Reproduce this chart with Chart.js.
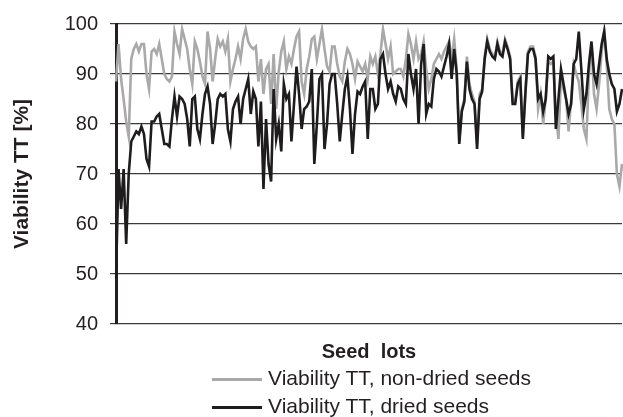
<!DOCTYPE html>
<html>
<head>
<meta charset="utf-8">
<title>Viability TT</title>
<script src="https://cdn.jsdelivr.net/npm/chart.js@4"></script>
<style>
  body { margin: 0; background: #fff; }
  #wrap { position: relative; width: 623px; height: 417px; }
  #legend {
    position: absolute; left: 212px; top: 364px;
    font: 21px "Liberation Sans", Arial, sans-serif; color: #231f20;
  }
  #legend div { height: 28px; line-height: 28px; white-space: nowrap; }
  #legend span.swatch {
    display: inline-block; width: 50px; height: 3px;
    vertical-align: middle; margin-right: 6px;
  }
</style>
</head>
<body>
<div id="wrap">
  <canvas id="chart" width="623" height="417"></canvas>
  <div id="legend"></div>
</div>
<script>
// viability (%) per seed lot
const nonDried = [
  88.5, 96, 89, 85, 80.5, 77.5, 93, 95, 96, 94.5,
  96, 96, 90, 87, 94.5, 95, 94, 96, 93, 90,
  89, 88.5, 89.5, 98.5, 96, 94, 99, 97, 95, 91,
  88, 96.5, 95, 92.5, 89.5, 88, 98.5, 95, 88.5, 93,
  97, 95.5, 96.5, 94.5, 97, 88.5, 91, 93, 95.5, 93,
  97, 99, 96.5, 95.5, 95, 95.5, 88.5, 93, 86, 91,
  92, 84, 94, 83, 90.5, 94.5, 96.5, 91, 93.5, 92,
  95, 97.5, 98.5, 88.5, 86, 91, 93.5, 97, 97.5, 93,
  96, 99, 95, 91.5, 90.5, 95.5, 95.5, 92, 89.5, 88.5,
  92.5, 95, 94, 92, 89, 92.5, 91.5, 90.5, 92, 89,
  93.5, 92, 93.5, 90, 94, 99, 96, 93, 95.5, 90,
  90.5, 91, 91, 89.5, 93, 98, 96, 93, 96.5, 93,
  94, 96.5, 91, 87, 89, 92, 93, 94, 93, 94.5,
  95.5, 96.5, 93, 97, 91, 76.5, 83, 85, 93.5, 88,
  86, 84.5, 76, 86, 87, 93.5, 97, 95, 94, 93.5,
  96.5, 94.5, 94, 97, 95.5, 93.5, 84.5, 84.5, 88.5, 89.5,
  77.5, 86.5, 94.5, 95.5, 95.5, 93.5, 83, 86, 80, 85,
  92.5, 92, 92.5, 82, 77, 89.5, 87, 85, 78.5, 85,
  92, 90, 88.5, 84, 79, 77, 90, 95.5, 86, 83,
  88, 94.5, 98.5, 92, 83, 81, 80, 70, 67.5, 72
];
const dried = [
  49, 71, 63, 71, 56, 70, 76.5, 77.5, 78.5, 78,
  79.5, 78, 73, 71.5, 80.5, 80.5, 81.5, 82, 79, 76,
  76, 75.5, 81, 85.5, 81.5, 85.5, 85, 84, 81, 75.5,
  85, 85.5, 79, 77, 82, 86, 87.5, 84, 76, 80,
  85, 86, 85.5, 86, 79, 76.5, 83, 84.5, 85.5, 80,
  85, 87, 89, 82, 86.5, 85, 75.5, 84.5, 67, 81,
  72, 68.5, 87, 77, 80, 74.5, 88, 85, 86, 76.5,
  84, 91.5, 86, 79, 83, 83.5, 84.5, 91, 72, 80,
  89, 90, 75, 80, 88, 90, 90, 84, 76.5, 82,
  87, 89.5, 83, 74, 82, 86.5, 86, 87.5, 88.5, 77,
  87, 87, 83, 84, 93, 94, 90, 87, 88.5, 86,
  84.5, 87.5, 87, 85, 84, 94, 90, 87, 91, 80,
  92, 96, 82, 84, 83.5, 89, 91, 90.5, 89.5, 91.5,
  93.5, 96, 89, 95, 90, 76, 82.5, 84.5, 92.5, 87,
  85, 84, 75, 85, 86.5, 93, 96.5, 94.5, 93.5, 93,
  96, 94, 93.5, 96.5, 95, 93, 84, 84, 88, 89,
  77, 86, 94, 95, 95, 93, 85, 86, 82.5, 85,
  93.5, 93, 93.5, 79, 85, 91, 88, 85, 82, 84,
  92, 93, 98.5, 91, 83, 86, 92, 96.5, 90, 88,
  92, 96, 98.5, 93, 90, 88, 87, 82.5, 84, 87
];
const seedLots = dried.map((_, i) => i + 1);
const yTicks = [40, 50, 60, 70, 80, 90, 100];

const series = [
  { label: 'Viability TT, non-dried seeds', data: nonDried, color: '#a9a9a9', order: 2 },
  { label: 'Viability TT, dried seeds', data: dried, color: '#1e1c1d', order: 1 }
];

const FONT = '"Liberation Sans", Arial, sans-serif';
const INK = '#231f20';

new Chart(document.getElementById('chart'), {
  type: 'line',
  data: {
    labels: seedLots,
    datasets: series.map(s => ({
      label: s.label,
      data: s.data,
      borderColor: s.color,
      backgroundColor: s.color,
      borderWidth: 2.6,
      pointRadius: 0,
      tension: 0,
      order: s.order
    }))
  },
  options: {
    responsive: false,
    animation: false,
    layout: { padding: { top: 24, right: 1, left: 0, bottom: 0 } },
    plugins: { legend: { display: false }, tooltip: { enabled: false } },
    scales: {
      x: {
        grid: { display: false },
        border: { display: false },
        ticks: { display: false },
        title: {
          display: true,
          text: 'Seed  lots',
          color: INK,
          font: { family: FONT, size: 20, weight: 'bold' },
          padding: { bottom: 53 }
        },
        afterFit: scale => { scale.height = 93; }
      },
      y: {
        min: 40,
        max: 100,
        afterBuildTicks: scale => { scale.ticks = yTicks.map(v => ({ value: v })); },
        grid: { color: '#3a3a3a', lineWidth: 1.2, tickLength: 6 },
        border: { color: '#231f20', width: 3 },
        ticks: {
          color: INK,
          padding: 12,
          font: { family: FONT, size: 20 }
        },
        title: {
          display: true,
          text: 'Viability TT [%]',
          color: INK,
          font: { family: FONT, size: 21, weight: 'bold' },
          padding: { top: 10 }
        },
        afterFit: scale => { scale.width = 116; }
      }
    }
  }
});

// two-row legend under the axis title
const legend = document.getElementById('legend');
series.forEach(s => {
  const row = document.createElement('div');
  const sw = document.createElement('span');
  sw.className = 'swatch';
  sw.style.background = s.color;
  row.appendChild(sw);
  row.appendChild(document.createTextNode(s.label));
  legend.appendChild(row);
});
</script>
</body>
</html>
